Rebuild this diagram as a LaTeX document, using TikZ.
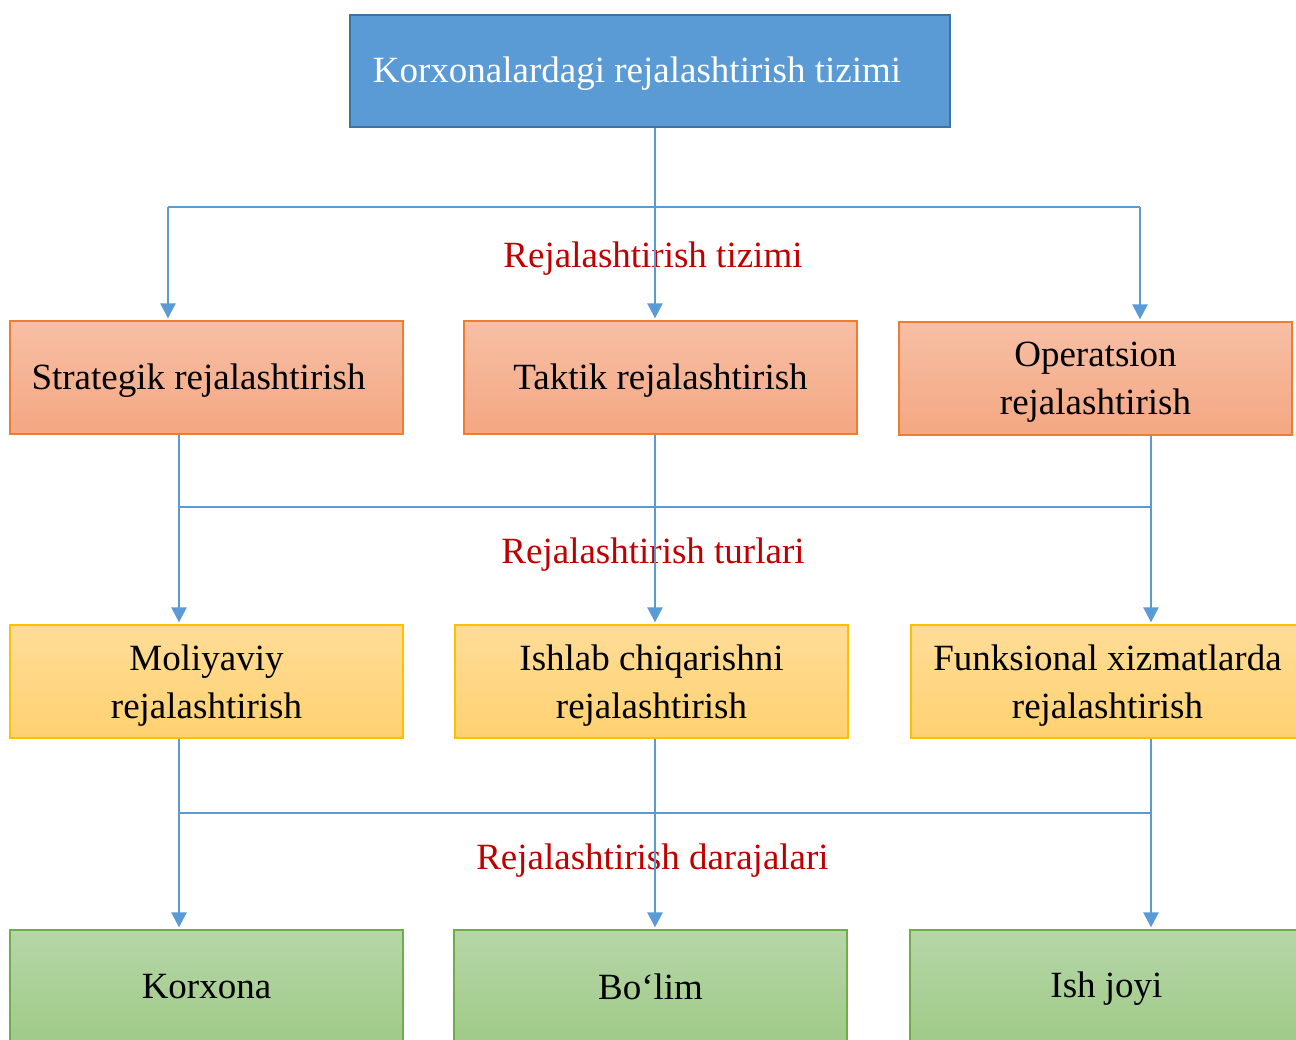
\documentclass[tikz,border=0pt]{standalone}
\usepackage{fontspec}
\setmainfont{Liberation Serif}
\usetikzlibrary{arrows.meta}
\definecolor{lineblue}{HTML}{5B9BD5}
\definecolor{topfill}{HTML}{5B9BD5}
\definecolor{topdraw}{HTML}{41719C}
\definecolor{orTop}{HTML}{F7BFA5}
\definecolor{orBot}{HTML}{F4A782}
\definecolor{orDraw}{HTML}{ED7D31}
\definecolor{yeTop}{HTML}{FFDC98}
\definecolor{yeBot}{HTML}{FFD170}
\definecolor{yeDraw}{HTML}{FFC000}
\definecolor{grTop}{HTML}{B6D6A8}
\definecolor{grBot}{HTML}{9FCA87}
\definecolor{grDraw}{HTML}{70AD47}
\definecolor{labred}{HTML}{C00000}
\begin{document}
\begin{tikzpicture}[x=1pt,y=-1pt,
  txt/.style={font=\fontsize{37pt}{48pt}\selectfont, align=center, inner sep=0pt},
  boxbase/.style={rectangle, minimum width=393pt, minimum height=113pt, line width=1.3pt, inner sep=0pt},
  topbox/.style={rectangle, minimum width=600pt, minimum height=112pt, fill=topfill, draw=topdraw, line width=2.5pt, inner sep=0pt},
  orbox/.style={boxbase, draw=orDraw, top color=orTop, bottom color=orBot},
  yebox/.style={boxbase, draw=yeDraw, top color=yeTop, bottom color=yeBot},
  grbox/.style={boxbase, draw=grDraw, top color=grTop, bottom color=grBot},
  lab/.style={font=\fontsize{37pt}{48pt}\selectfont, text=labred, anchor=base, inner sep=0pt},
  conn/.style={draw=lineblue, line width=2.5pt},
  arr/.style={conn, -{Triangle[width=15pt,length=15pt]}, shorten >=2pt}]
\useasboundingbox (0,0) rectangle (1296,1039);
\clip (0,0) rectangle (1296,1039);
\fill[white] (0,0) rectangle (1296,1039);

% boxes
\node[topbox, label={[txt,text=white,yshift=-3pt,xshift=-13pt]center:Korxonalardagi rejalashtirish tizimi}] (top) at (650,71) {};
\node[orbox, label={[txt,yshift=-3pt,xshift=-8pt]center:Strategik rejalashtirish}] (strat) at (206.5,377.5) {};
\node[orbox, label={[txt,yshift=-3pt]center:Taktik rejalashtirish}] (takt) at (660.5,377.5) {};
\node[orbox, label={[txt,yshift=-4pt]center:Operatsion\\rejalashtirish}] (oper) at (1095.5,378.5) {};
\node[yebox, label={[txt,yshift=-4pt]center:Moliyaviy\\rejalashtirish}] (moli) at (206.5,681.5) {};
\node[yebox, label={[txt,yshift=-4pt]center:Ishlab chiqarishni\\rejalashtirish}] (ishlab) at (651.5,681.5) {};
\node[yebox, label={[txt,yshift=-4pt]center:Funksional xizmatlarda\\rejalashtirish}] (funk) at (1107.5,681.5) {};
\node[grbox, label={[txt]center:Korxona}] (korx) at (206.5,986.5) {};
\node[grbox, label={[txt]center:Bo‘lim}] (bolim) at (650.5,986.5) {};
\node[grbox, label={[txt,yshift=-2pt]center:Ish joyi}] (ishjoy) at (1106.5,986.5) {};

% labels
\node[lab] (lab1) at (653,267) {Rejalashtirish tizimi};
\node[lab] (lab2) at (653,563) {Rejalashtirish turlari};
\node[lab] (lab3) at (652.5,869) {Rejalashtirish darajalari};

% bus coordinates
\coordinate (j1) at (655,207);
\coordinate (l1) at (168,207);
\coordinate (r1) at (1140,207);
\coordinate (l2) at (179,507);
\coordinate (r2) at (1151,507);
\coordinate (l3) at (179,813);
\coordinate (r3) at (1151,813);

% level 1
\draw[conn] (top.south -| j1) -- (j1);
\draw[conn] (l1) -- (r1);
\draw[arr] (j1) -- (j1 |- takt.north);
\draw[arr] (l1) -- (l1 |- strat.north);
\draw[arr] (r1) -- (r1 |- oper.north);

% level 2
\draw[conn] (l2) -- (r2);
\draw[arr] (l2 |- strat.south) -- (l2 |- moli.north);
\draw[arr] (r2 |- oper.south) -- (r2 |- funk.north);
\draw[arr] (j1 |- takt.south) -- (j1 |- ishlab.north);

% level 3
\draw[conn] (l3) -- (r3);
\draw[arr] (l3 |- moli.south) -- (l3 |- korx.north);
\draw[arr] (r3 |- funk.south) -- (r3 |- ishjoy.north);
\draw[arr] (j1 |- ishlab.south) -- (j1 |- bolim.north);
\end{tikzpicture}
\end{document}
